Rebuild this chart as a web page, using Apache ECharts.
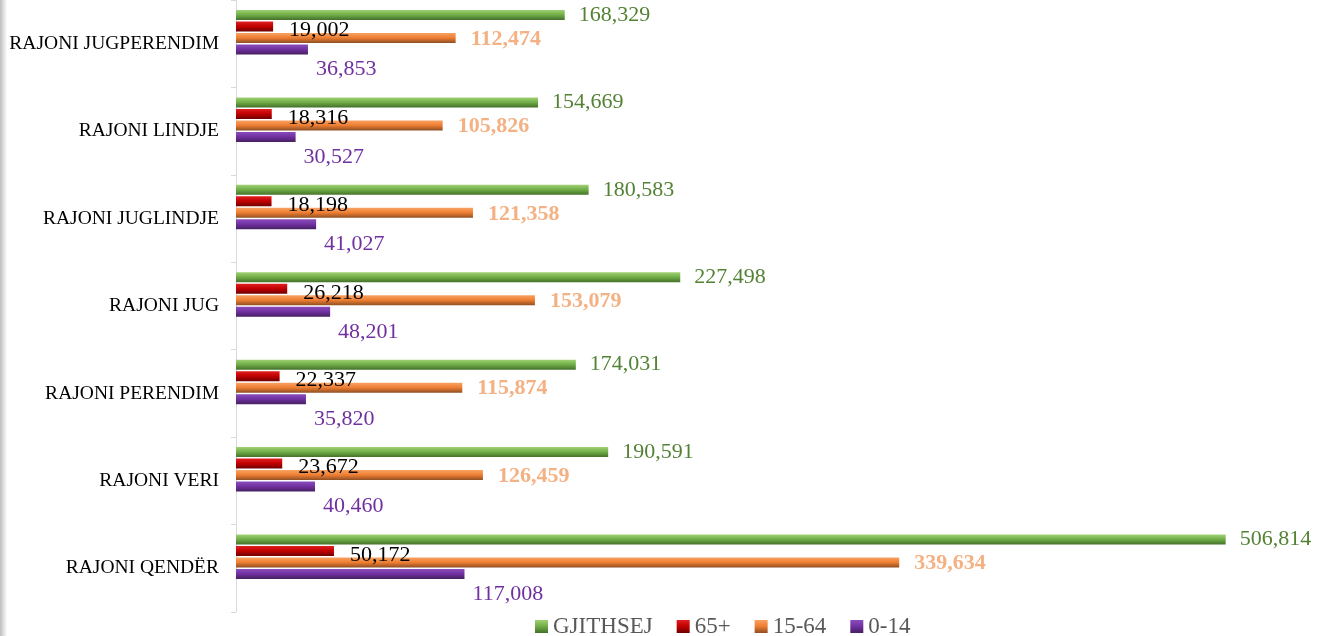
<!DOCTYPE html>
<html>
<head>
<meta charset="utf-8">
<script src="https://cdn.jsdelivr.net/npm/echarts@6/dist/echarts.min.js"></script>
<style>
  html, body { margin: 0; padding: 0; background: #fff; }
  #chart { width: 1322px; height: 636px; }
</style>
</head>
<body>
<div id="chart"></div>
<script>
// rajonet, nga poshte lart
var categories = ['RAJONI QENDËR', 'RAJONI VERI', 'RAJONI PERENDIM', 'RAJONI JUG',
  'RAJONI JUGLINDJE', 'RAJONI LINDJE', 'RAJONI JUGPERENDIM'];
var gjithsej = [506814, 190591, 174031, 227498, 180583, 154669, 168329];
var mosha65 = [50172, 23672, 22337, 26218, 18198, 18316, 19002];
var mosha1564 = [339634, 126459, 115874, 153079, 121358, 105826, 112474];
var mosha014 = [117008, 40460, 35820, 48201, 41027, 30527, 36853];
var legendNames = ['GJITHSEJ', '65+', '15-64', '0-14'];

var FONT = '"Liberation Serif", "DejaVu Serif", serif';

function fmt(p) {
  return String(p.value).replace(/\B(?=(\d{3})+(?!\d))/g, ',');
}

function grad(c1, c2, c3) {
  return new echarts.graphic.LinearGradient(0, 0, 0, 1, [
    { offset: 0, color: c1 },
    { offset: 0.5, color: c2 },
    { offset: 1, color: c3 }
  ]);
}

function barSeries(name, data, colors, label) {
  return {
    name: name,
    type: 'bar',
    data: data,
    barWidth: 10,
    barGap: '15%',
    itemStyle: { color: grad(colors[0], colors[1], colors[2]) },
    label: Object.assign({
      show: true,
      position: 'right',
      formatter: fmt,
      fontFamily: FONT,
      fontSize: 22
    }, label)
  };
}

// bosh, vetem per te zhvendosur grupin e shiritave lart
var empty = categories.map(function () { return '-'; });

var chart = echarts.init(document.getElementById('chart'));
chart.setOption({
  backgroundColor: '#fff',
  animation: false,
  grid: { left: 236, right: 12, top: 0, bottom: 24 },
  legend: {
    data: legendNames,
    top: 610,
    left: 530,
    itemWidth: 13,
    itemHeight: 13,
    itemGap: 24,
    icon: 'rect',
    textStyle: { fontFamily: FONT, fontSize: 23, color: '#595959' }
  },
  xAxis: {
    type: 'value',
    min: 0,
    max: 550000,
    show: false
  },
  yAxis: {
    type: 'category',
    data: categories,
    axisLine: { lineStyle: { color: '#d9d9d9' } },
    axisTick: { show: true, length: 5, lineStyle: { color: '#d9d9d9' } },
    axisLabel: { fontFamily: FONT, fontSize: 19.5, color: '#000', margin: 17 }
  },
  graphic: [
    {
      type: 'rect', left: 0, top: 0, z: 10,
      shape: { width: 7, height: 636 },
      style: {
        fill: new echarts.graphic.LinearGradient(0, 0, 1, 0, [
          { offset: 0, color: '#bdbdbd' },
          { offset: 1, color: '#ffffff' }
        ])
      }
    }
  ],
  series: [
    barSeries('GJITHSEJ', gjithsej, ['#9fd173', '#6fac46', '#44702a'],
      { color: '#548235', distance: 14, offset: [0, 0] }),
    barSeries('65+', mosha65, ['#e02020', '#c00000', '#6e0000'],
      { color: '#000', distance: 16, offset: [0, 4] }),
    barSeries('15-64', mosha1564, ['#f9a262', '#ed7d31', '#8e4f24'],
      { color: '#f4b183', fontWeight: 'bold', distance: 15, offset: [0, 1] }),
    barSeries('0-14', mosha014, ['#8a4cbc', '#7030a0', '#45205f'],
      { color: '#7030a0', distance: 8, offset: [0, 20] }),
    { name: 'x1', type: 'bar', data: empty, barWidth: 10, barGap: '15%', silent: true },
    { name: 'x2', type: 'bar', data: empty, barWidth: 10, barGap: '15%', silent: true }
  ]
});
</script>
</body>
</html>
